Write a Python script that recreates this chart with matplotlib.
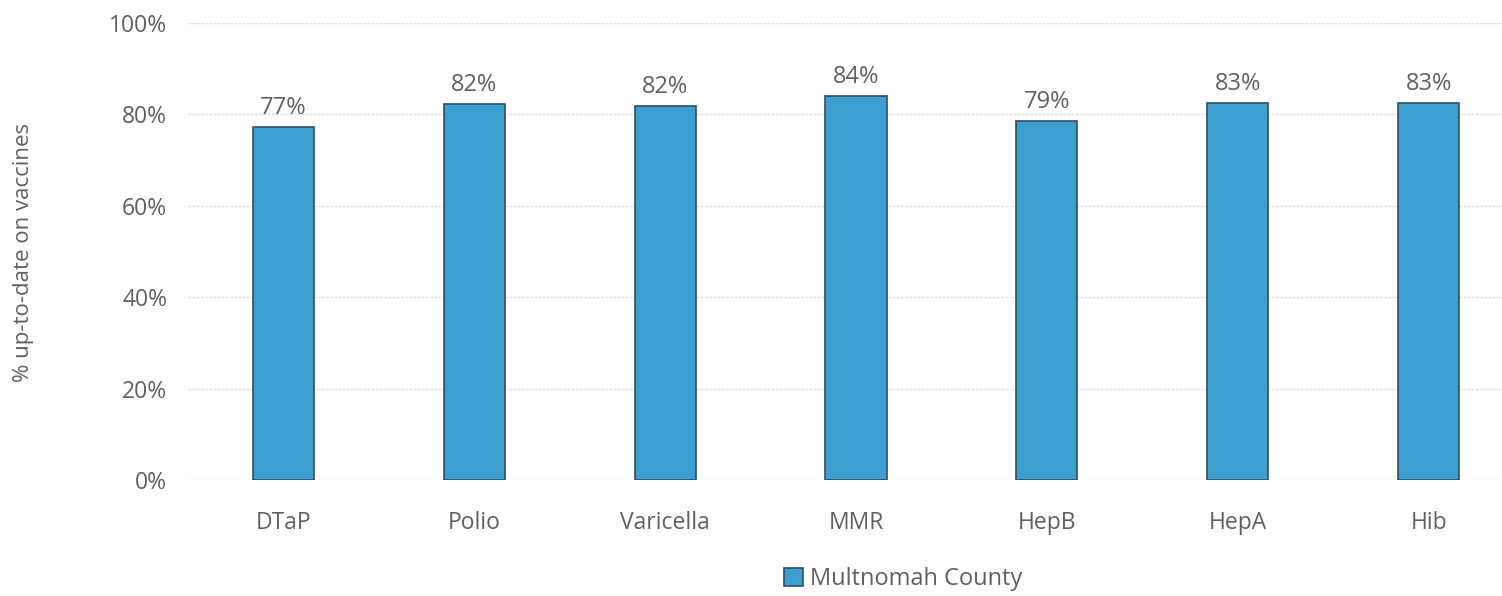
import matplotlib.pyplot as plt
from matplotlib.patches import Patch

vaccines = ['DTaP', 'Polio', 'Varicella', 'MMR', 'HepB', 'HepA', 'Hib']
pct = [77.2, 82.3, 81.8, 84.0, 78.6, 82.6, 82.6]
yticks = [0, 20, 40, 60, 80, 100]

plt.rcParams['font.family'] = ['Open Sans', 'DejaVu Sans']
grey = '#606060'
bar_col = '#3d9fcf'

fig = plt.figure(figsize=(15.02, 5.96), dpi=100)
# axes spans pixel x 188..1524, y 23..480
ax = fig.add_axes([188 / 1502, (596 - 480) / 596, 1336 / 1502, 457 / 596])

x = range(len(vaccines))
bars = ax.bar(x, pct, width=0.32, color=bar_col, edgecolor='#2f4f60', linewidth=1.2, zorder=3)
for b, v in zip(bars, pct):
    ax.text(b.get_x() + b.get_width() / 2, v + 1.5, f'{round(v)}%', ha='center', va='bottom',
            fontsize=17, color=grey)

ax.set_xlim(-0.5, len(vaccines) - 0.5)
ax.set_ylim(0, 100)
ax.set_yticks(yticks)
ax.set_yticklabels([f'{t}%' for t in yticks])
ax.set_xticks(list(x))
ax.set_xticklabels(vaccines)
ax.tick_params(axis='both', length=0, labelsize=16.5, labelcolor=grey)
ax.tick_params(axis='y', pad=15)
ax.tick_params(axis='x', pad=22)
ax.grid(axis='y', color='#e0e0e0', linestyle=(0, (2, 1)), linewidth=1, zorder=0)
for s in ax.spines.values():
    s.set_visible(False)

fig.text(24 / 1502, 1 - 252 / 596, '% up-to-date on vaccines', rotation=90, ha='center', va='center',
         fontsize=16, color=grey)

handle = Patch(facecolor=bar_col, edgecolor='#2f4f60', linewidth=1.2)
fig.legend([handle], ['Multnomah County'], loc='center', bbox_to_anchor=(903 / 1502, 1 - 579 / 596),
           frameon=False, fontsize=17, labelcolor=grey, handlelength=0.8, handleheight=0.8,
           handletextpad=0.3)

fig.savefig('out.png', dpi=100)
